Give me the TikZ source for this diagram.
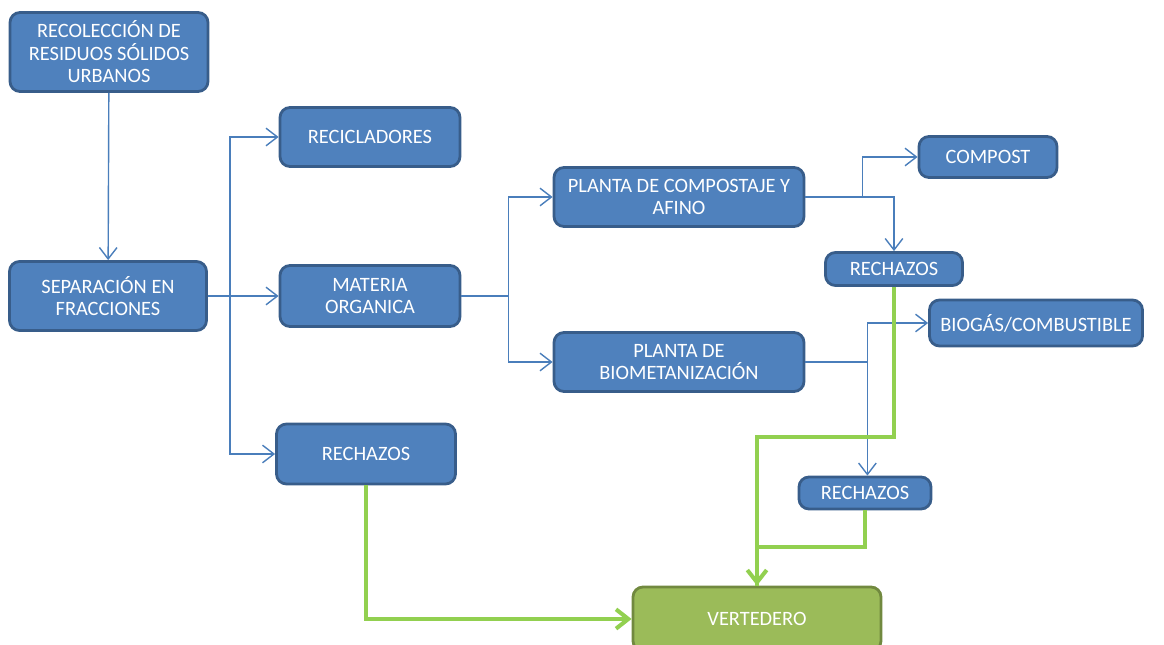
\documentclass[tikz,border=0pt]{standalone}
\usepackage{fontspec}
\setmainfont{Carlito}
\usetikzlibrary{arrows.meta}
\definecolor{boxblue}{HTML}{4F81BD}
\definecolor{edgeblue}{HTML}{385D8A}
\definecolor{lineblue}{HTML}{4A7EBB}
\definecolor{boxgreen}{HTML}{9BBB59}
\definecolor{edgegreen}{HTML}{71893F}
\definecolor{linegreen}{HTML}{92D050}
\begin{document}
\begin{tikzpicture}[x=0.02cm,y=-0.02cm,
    box/.style={draw=edgeblue,fill=boxblue,line width=1.6pt,rounded corners=0.2cm,
        text=white,align=center,inner sep=0pt,font=\fontsize{11.6}{12.8}\selectfont},
    endbox/.style={box,draw=edgegreen,fill=boxgreen},
    arr/.style={draw=lineblue,line width=0.8pt,-{Straight Barb[length=6.5pt,width=10pt]}},
    gline/.style={draw=linegreen,line width=2.3pt},
    garr/.style={gline,-{Straight Barb[length=7pt,width=11pt]}}]
        \useasboundingbox (0,0) rectangle (1164,645);
        \node[box,minimum width=198*0.02cm,minimum height=79*0.02cm] (rec) at (109,52) {RECOLECCIÓN DE\\RESIDUOS SÓLIDOS\\URBANOS};
        \node[box,minimum width=197*0.02cm,minimum height=69*0.02cm] (sep) at (108,296) {SEPARACIÓN EN\\FRACCIONES};
        \node[box,minimum width=180*0.02cm,minimum height=59*0.02cm] (recic) at (370,137) {RECICLADORES};
        \node[box,minimum width=180*0.02cm,minimum height=61*0.02cm] (mat) at (370,296) {MATERIA\\ORGANICA};
        \node[box,minimum width=179*0.02cm,minimum height=60*0.02cm] (rech1) at (366,454) {RECHAZOS};
        \node[box,minimum width=250*0.02cm,minimum height=59*0.02cm] (comp) at (679,197) {PLANTA DE COMPOSTAJE Y\\AFINO};
        \node[box,minimum width=250*0.02cm,minimum height=59*0.02cm] (bio) at (679,362) {PLANTA DE\\BIOMETANIZACIÓN};
        \node[box,minimum width=138*0.02cm,minimum height=41*0.02cm] (compost) at (988,157) {COMPOST};
        \node[box,minimum width=137*0.02cm,minimum height=33*0.02cm] (rech2) at (894,269) {RECHAZOS};
        \node[box,minimum width=213*0.02cm,minimum height=46*0.02cm] (biogas) at (1036,323) {BIOGÁS/COMBUSTIBLE};
        \node[box,minimum width=132*0.02cm,minimum height=32*0.02cm] (rech3) at (865,493) {RECHAZOS};
        \node[endbox,minimum width=248*0.02cm,minimum height=64*0.02cm] (vert) at (757,619) {VERTEDERO};
        \draw[arr] (rec) -- (sep);
        \draw[arr] (sep) -- (mat);
        \draw[arr] (sep.east) -- ++(22,0) coordinate (s) |- (recic);
        \draw[arr] (s) |- (rech1);
        \draw[arr] (mat.east) -- ++(47,0) coordinate (m) |- (comp);
        \draw[arr] (m) |- (bio);
        \draw[arr] (comp.east) -- ++(57,0) |- (compost);
        \draw[arr] (comp.east) -| (rech2);
        \draw[arr] (bio.east) -- ++(62,0) coordinate (b) |- (biogas);
        \draw[arr] (b) -- (b |- rech3.north);
        \draw[gline] (rech3.south) -- ++(0,37) -| (vert.north);
        \draw[garr] (rech2.south) -- ++(0,150) -| (vert.north);
        \draw[garr] (rech1.south) |- (vert.west);
\end{tikzpicture}
\end{document}
